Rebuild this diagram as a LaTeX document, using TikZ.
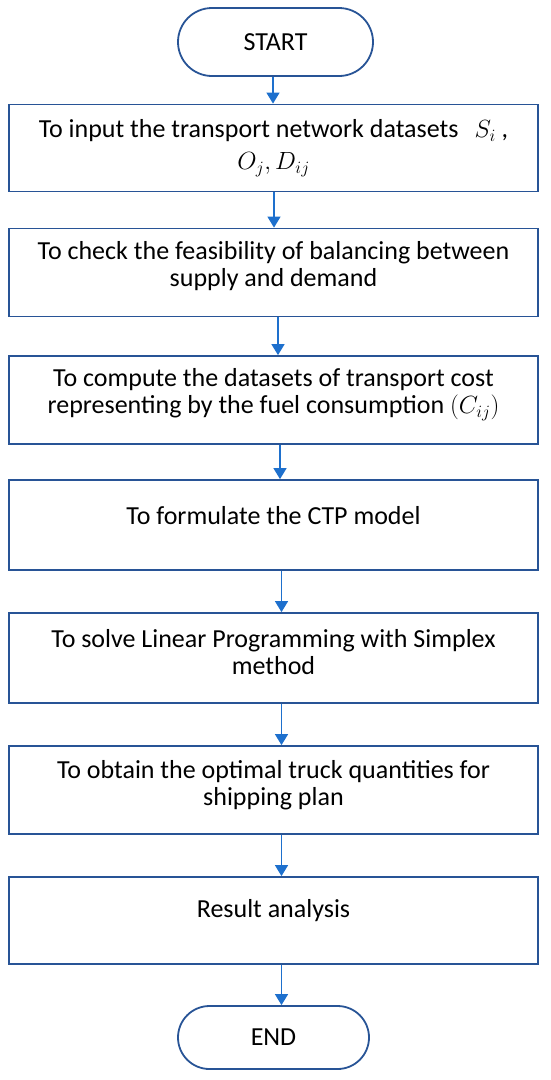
\documentclass[tikz,border=0pt]{standalone}
\usepackage{fontspec}
\setmainfont{Carlito}
\usetikzlibrary{arrows.meta,shapes.misc}
\definecolor{boxblue}{RGB}{40,84,150}
\definecolor{arrblue}{RGB}{30,112,205}
\begin{document}
\begin{tikzpicture}[x=1pt,y=-1pt,
  every node/.style={font=\fontsize{26}{27}\selectfont, text=black},
  stepbox/.style={draw=boxblue, line width=1.8pt, minimum width=529pt, inner sep=0pt},
  steptext/.style={align=center, inner sep=0pt},
  termbox/.style={draw=boxblue, line width=1.8pt, rounded rectangle, inner sep=0pt},
  flow/.style={draw=arrblue, line width=1.5pt, -{Triangle[width=13pt,length=11pt]}}]
\useasboundingbox (0,0) rectangle (550,1080);
\node[termbox, minimum width=195pt, minimum height=68pt] (start) at (275.5,42) {START};
\node[stepbox, minimum height=87pt] (b1) at (273.5,148) {};
\node[stepbox, minimum height=88pt] (b2) at (273.5,272.5) {};
\node[stepbox, minimum height=88pt] (b3) at (273.5,400) {};
\node[stepbox, minimum height=90pt] (b4) at (273.5,525) {};
\node[stepbox, minimum height=90pt] (b5) at (273.5,658) {};
\node[stepbox, minimum height=88pt] (b6) at (273.5,790) {};
\node[stepbox, minimum height=87pt] (b7) at (273.5,920.5) {};
\node[termbox, minimum width=191pt, minimum height=63pt] (end) at (273.5,1037.5) {END};
\node[steptext] (t1) at ([yshift=0pt]b1.center) {To input the transport network datasets \ \,$S_i$ ,\\[5pt]$O_j, D_{ij}$};
\node[steptext] (t2) at ([yshift=6pt]b2.center) {To check the feasibility of balancing between\\supply and demand};
\node[steptext] (t3) at ([yshift=5pt]b3.center) {To compute the datasets of transport cost\\representing by the fuel consumption $(C_{ij})$};
\node[steptext] (t4) at ([yshift=9pt]b4.center) {To formulate the CTP model};
\node[steptext] (t5) at ([yshift=5.5pt]b5.center) {To solve Linear Programming with Simplex\\method};
\node[steptext] (t6) at ([yshift=5pt]b6.center) {To obtain the optimal truck quantities for\\shipping plan};
\node[steptext] (t7) at ([yshift=10pt]b7.center) {Result analysis};
\draw[flow] ([xshift=-2.5pt]start.south) -- ([xshift=-0.5pt]b1.north);
\draw[flow] ([xshift=0.5pt]b1.south) -- ([xshift=0.5pt]b2.north);
\draw[flow] ([xshift=4.5pt]b2.south) -- ([xshift=4.5pt]b3.north);
\draw[flow] ([xshift=6.5pt]b3.south) -- ([xshift=6.5pt]b4.north);
\draw[flow] ([xshift=8pt]b4.south) -- ([xshift=8pt]b5.north);
\draw[flow] ([xshift=8pt]b5.south) -- ([xshift=8pt]b6.north);
\draw[flow] ([xshift=8pt]b6.south) -- ([xshift=8pt]b7.north);
\draw[flow] ([xshift=8pt]b7.south) -- ([xshift=8pt]end.north);
\end{tikzpicture}
\end{document}
